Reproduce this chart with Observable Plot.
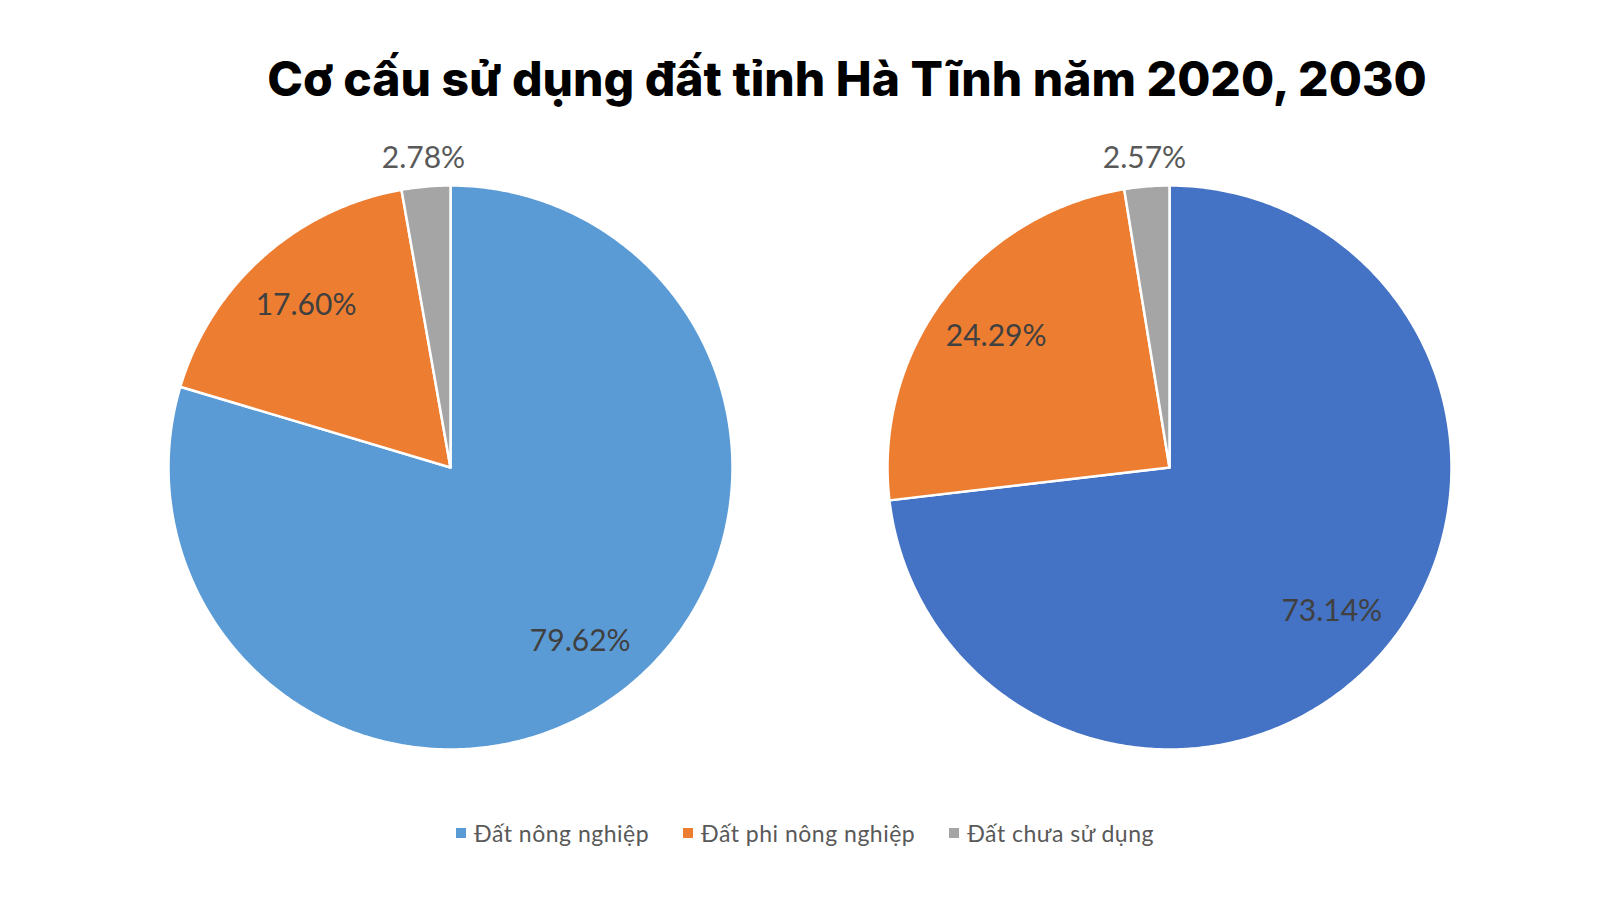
<!DOCTYPE html>
<html>
<head>
<meta charset="utf-8">
<script src="https://cdn.jsdelivr.net/npm/d3@7"></script>
<script src="https://cdn.jsdelivr.net/npm/@observablehq/plot@0.6"></script>
<style>
  html, body { margin: 0; padding: 0; background: #ffffff; }
  #wrap { width: 1600px; height: 900px; position: relative; overflow: hidden; }
  #title { height: 130px; box-sizing: border-box; padding-top: 55px; padding-left: 94px; text-align: center;
    font-family: Inter, "Open Sans", sans-serif; font-weight: 800; font-size: 48px; color: #000; line-height: 1; letter-spacing: 0px; }
  #legend { display: flex; justify-content: center; gap: 0; padding-top: 29px; padding-left: 10px;
    font-family: Lato, "Open Sans", sans-serif; font-size: 23px; letter-spacing: 0.5px; color: #595959; }
  .item { display: flex; align-items: center; margin: 0 17px; }
  .sw { width: 10px; height: 10px; margin-right: 8px; }
</style>
</head>
<body>
<div id="wrap">
  <div id="title"></div>
  <div id="chart"></div>
  <div id="legend"></div>
</div>
<script>
const title = "Cơ cấu sử dụng đất tỉnh Hà Tĩnh năm 2020, 2030";
const years = ["2020", "2030"];
const categories = ["Đất nông nghiệp", "Đất phi nông nghiệp", "Đất chưa sử dụng"];
const values2020 = [79.62, 17.60, 2.78];
const values2030 = [73.14, 24.29, 2.57];
const labels2020 = ["79.62%", "17.60%", "2.78%"];
const labels2030 = ["73.14%", "24.29%", "2.57%"];
const palette2020 = ["#5B9BD5", "#ED7D31", "#A5A5A5"];
const palette2030 = ["#4472C4", "#ED7D31", "#A5A5A5"];
const legendColors = ["#5B9BD5", "#ED7D31", "#A5A5A5"];

document.getElementById("title").textContent = title;

const series = [
  {year: years[0], values: values2020, labels: labels2020, palette: palette2020},
  {year: years[1], values: values2030, labels: labels2030, palette: palette2030}
];

const slicePts = [];
const labelPts = [];
for (const s of series) {
  const total = d3.sum(s.values);
  let cum = 0;
  s.values.forEach((v, i) => {
    const a0 = cum / total * 2 * Math.PI;
    cum += v;
    const a1 = cum / total * 2 * Math.PI;
    const key = s.year + "-" + i;
    const color = s.palette[i];
    slicePts.push({year: s.year, key, color, x: 0, y: 0});
    const n = Math.max(2, Math.ceil((a1 - a0) / (Math.PI / 360)));
    for (let k = 0; k <= n; k++) {
      const a = a0 + (a1 - a0) * k / n;
      slicePts.push({year: s.year, key, color, x: Math.sin(a), y: Math.cos(a)});
    }
    const am = (a0 + a1) / 2;
    const rf = v / total < 0.05 ? 1.1 : 0.77;
    labelPts.push({year: s.year, text: s.labels[i], x: rf * Math.sin(am), y: rf * Math.cos(am), outside: rf > 1});
  });
}

const chart = Plot.plot({
  width: 1600,
  height: 660,
  marginTop: 55,
  marginBottom: 41,
  marginLeft: 168,
  marginRight: 149,
  fx: {axis: null, domain: years, paddingInner: 0.2156, paddingOuter: 0, round: false},
  x: {axis: null, domain: [-1, 1]},
  y: {axis: null, domain: [-1, 1]},
  color: {type: "identity"},
  style: {background: "transparent", overflow: "visible"},
  marks: [
    Plot.line(slicePts, {x: "x", y: "y", z: "key", fx: "year", fill: "color", stroke: "white", strokeWidth: 2.5, curve: "linear-closed"}),
    Plot.text(labelPts, {x: "x", y: "y", fx: "year", text: "text", fontSize: 30, fill: d => d.outside ? "#595959" : "#404040", fontFamily: "Lato, 'Open Sans', sans-serif"})
  ]
});
document.getElementById("chart").appendChild(chart);

const legend = document.getElementById("legend");
categories.forEach((c, i) => {
  const it = document.createElement("div");
  it.className = "item";
  const sw = document.createElement("div");
  sw.className = "sw";
  sw.style.background = legendColors[i];
  const tx = document.createElement("span");
  tx.textContent = c;
  it.appendChild(sw); it.appendChild(tx);
  legend.appendChild(it);
});
</script>
</body>
</html>
